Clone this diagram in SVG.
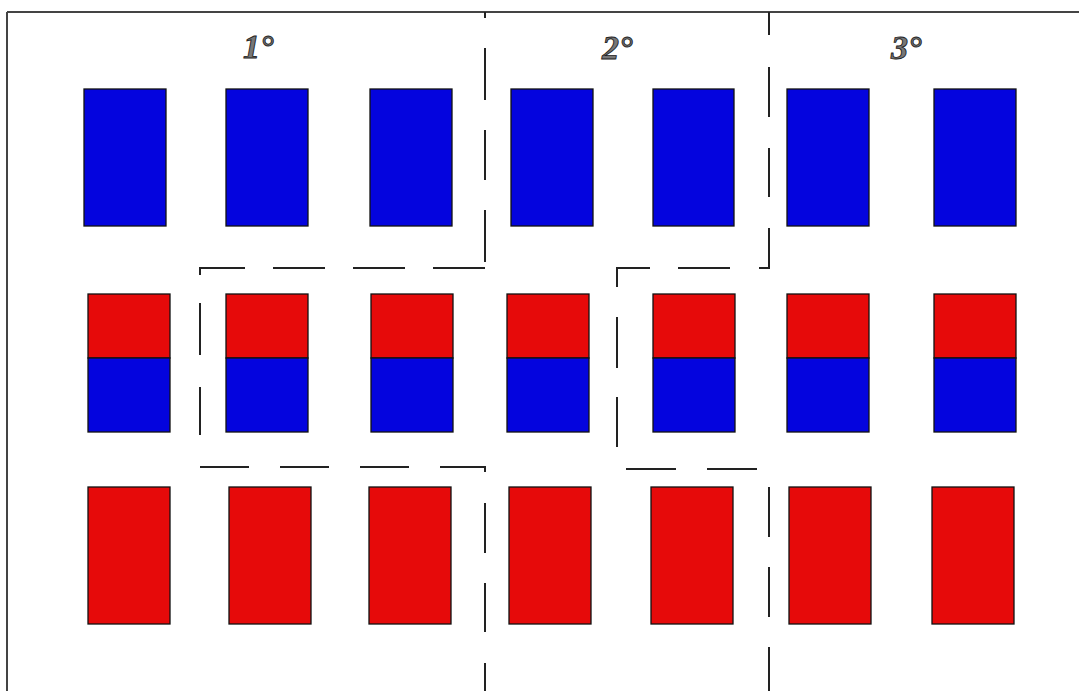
<svg xmlns="http://www.w3.org/2000/svg" width="1079" height="691" viewBox="0 0 1079 691">
<style>
.b{fill:#0404de;stroke:#111;stroke-width:1.3}
.r{fill:#e60a0a;stroke:#111;stroke-width:1.3}
.d{stroke:#222;stroke-width:2;fill:none}
.t{font-family:"Liberation Serif",serif;font-style:italic;font-weight:bold;font-size:34px;fill:#777;stroke:#222;stroke-width:0.9}
</style>
<rect x="0" y="0" width="1079" height="691" fill="#fff"/>
<g id="frame">
<line x1="7" y1="12" x2="1079" y2="12" stroke="#444" stroke-width="2"/>
<line x1="7" y1="12" x2="7" y2="691" stroke="#444" stroke-width="2"/>
</g>
<g id="labels">
<text class="t" x="243" y="58">1°</text>
<text class="t" x="602" y="59">2°</text>
<text class="t" x="891" y="59">3°</text>
</g>
<g id="row-top">
<rect class="b" x="84" y="89" width="82" height="137"/>
<rect class="b" x="226" y="89" width="82" height="137"/>
<rect class="b" x="370" y="89" width="82" height="137"/>
<rect class="b" x="511" y="89" width="82" height="137"/>
<rect class="b" x="653" y="89" width="81" height="137"/>
<rect class="b" x="787" y="89" width="82" height="137"/>
<rect class="b" x="934" y="89" width="82" height="137"/>
</g>
<g id="row-middle">
<g><rect class="r" x="88" y="294" width="82" height="64"/><rect class="b" x="88" y="358" width="82" height="74"/></g>
<g><rect class="r" x="226" y="294" width="82" height="64"/><rect class="b" x="226" y="358" width="82" height="74"/></g>
<g><rect class="r" x="371" y="294" width="82" height="64"/><rect class="b" x="371" y="358" width="82" height="74"/></g>
<g><rect class="r" x="507" y="294" width="82" height="64"/><rect class="b" x="507" y="358" width="82" height="74"/></g>
<g><rect class="r" x="653" y="294" width="82" height="64"/><rect class="b" x="653" y="358" width="82" height="74"/></g>
<g><rect class="r" x="787" y="294" width="82" height="64"/><rect class="b" x="787" y="358" width="82" height="74"/></g>
<g><rect class="r" x="934" y="294" width="82" height="64"/><rect class="b" x="934" y="358" width="82" height="74"/></g>
</g>
<g id="row-bottom">
<rect class="r" x="88" y="487" width="82" height="137"/>
<rect class="r" x="229" y="487" width="82" height="137"/>
<rect class="r" x="369" y="487" width="82" height="137"/>
<rect class="r" x="509" y="487" width="82" height="137"/>
<rect class="r" x="651" y="487" width="82" height="137"/>
<rect class="r" x="789" y="487" width="82" height="137"/>
<rect class="r" x="932" y="487" width="82" height="137"/>
</g>
<g id="connectors">
<g id="group-1">
<path class="d" d="M485 12V18M485 48V100M485 130V180M485 210V262"/>
<path class="d" d="M485 268H433M405 268H353M325 268H273M245 268H200V275"/>
<path class="d" d="M200 303V355M200 387V435"/>
<path class="d" d="M200 467H249M280 467H329M360 467H409M440 467H485V472"/>
<path class="d" d="M485 503V553M485 583V632M485 663V691"/>
</g>
<g id="group-2">
<path class="d" d="M769 12V35M769 67V117M769 148V197M769 228V268H759"/>
<path class="d" d="M730 268H678M650 268H617V287"/>
<path class="d" d="M617 317V368M617 397V447"/>
<path class="d" d="M626 469H676M707 469H757"/>
<path class="d" d="M769 487V537M769 567V617M769 647V691"/>
</g>
</g>
</svg>
